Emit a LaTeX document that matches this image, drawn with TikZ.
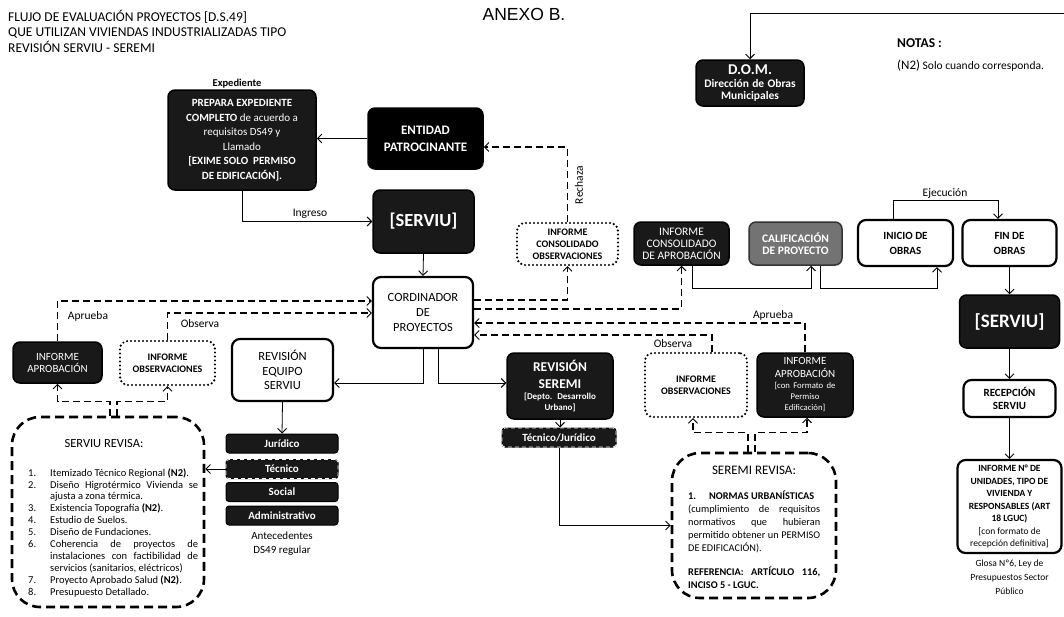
\documentclass[tikz,border=0pt]{standalone}
\usepackage{fontspec}
\setmainfont{Carlito}
\newfontfamily\arialf{Liberation Sans}
\usetikzlibrary{arrows.meta}
\newcommand\fsz[2]{\fontsize{#1}{#2}\selectfont}
\newcommand\lmklabel[1]{#1\hfil}
\begin{document}
\begin{tikzpicture}[x=1pt,y=-1pt,
 every node/.style={inner sep=0pt},
 arr/.style={draw=black,line width=0.8pt,-{Straight Barb[length=4.5pt,width=9pt,line width=0.9pt]}},
 darr/.style={arr,line width=1.4pt,dash pattern=on 7pt off 4pt},
 blk/.style={rounded corners=7pt,fill=black!90,draw=black,line width=1.5pt,text=white,align=center},
 gry/.style={blk,fill=black!55,draw=black!80},
 wht/.style={rounded corners=8pt,fill=white,draw=black,line width=2.2pt,align=center},
 dotb/.style={rounded corners=8pt,fill=white,draw=black,line width=2.4pt,dash pattern=on 0pt off 4pt,line cap=round,align=center},
 dshb/.style={rounded corners=28pt,draw=black,line width=2.6pt,dash pattern=on 9pt off 5pt},
 tab/.style={rounded corners=3pt,fill=black!90,draw=black,line width=1pt,text=white,font=\bfseries\fsz{11}{13},minimum width=112pt,minimum height=19pt},
 tabd/.style={tab,postaction={draw=white,line width=0.8pt,dash pattern=on 4pt off 3pt}},
 lbl/.style={font=\fsz{11.5}{13}},
]
\fill[white] (0,0) rectangle (1064,616);
\useasboundingbox (0,0) rectangle (1064,616);

% title
\node[anchor=base west,font=\fsz{13.5}{15}] (t1) at (8,21.5) {FLUJO DE EVALUACIÓN PROYECTOS [D.S.49]};
\node[anchor=base west,font=\fsz{13.5}{15}] (t2) at (8,36.5) {QUE UTILIZAN VIVIENDAS INDUSTRIALIZADAS TIPO};
\node[anchor=base west,font=\fsz{13.5}{15}] (t3) at (8,52) {REVISIÓN SERVIU - SEREMI};
\node[font=\arialf\fsz{17.5}{19}] (anexo) at (524,14) {ANEXO B.};

% notes
\node[anchor=west,font=\bfseries\fsz{13.5}{15}] (notas) at (897,43) {NOTAS :};
\node[anchor=west,font=\fsz{11.5}{13}] (n2) at (897,66) {{\fsz{13}{14}(N2)} Solo cuando corresponda.};

% boxes
\node[font=\bfseries\fsz{10.5}{12}] (expl) at (237,84) {Expediente};
\node[blk,minimum width=148pt,minimum height=100pt,font=\fsz{11}{14.5}] (exp) at (242,140)
 {\textbf{PREPARA EXPEDIENTE}\\\textbf{COMPLETO} de acuerdo a\\requisitos DS49 y\\Llamado\\\textbf{[EXIME SOLO\ \ PERMISO}\\\textbf{DE EDIFICACIÓN].}};
\node[blk,fill=black,minimum width=115pt,minimum height=61pt,font=\bfseries\fsz{13}{17}] (ent) at (425.5,138.5) {ENTIDAD\\PATROCINANTE};
\node[blk,minimum width=101pt,minimum height=63pt,font=\bfseries\fsz{18.5}{20}] (serv1) at (423.5,221.5) {[SERVIU]};
\node[dotb,minimum width=101pt,minimum height=42pt,font=\bfseries\fsz{10}{12}] (ico) at (567.5,244) {INFORME\\CONSOLIDADO\\OBSERVACIONES};
\node[wht,minimum width=100pt,minimum height=71pt,font=\fsz{12.5}{15}] (coord) at (423,312.5) {CORDINADOR\\DE\\PROYECTOS};
\node[blk,minimum width=95pt,minimum height=43pt,font=\fsz{11.5}{12}] (ica) at (681.5,243.5) {INFORME\\CONSOLIDADO\\DE APROBACIÓN};
\node[gry,minimum width=93pt,minimum height=43pt,font=\bfseries\fsz{11.5}{12}] (cal) at (795.5,243.5) {CALIFICACIÓN\\DE PROYECTO};
\node[wht,minimum width=95pt,minimum height=46pt,font=\bfseries\fsz{11}{15}] (ini) at (905.5,243) {INICIO DE\\OBRAS};
\node[wht,minimum width=94pt,minimum height=46pt,font=\bfseries\fsz{11}{15}] (fin) at (1009.5,243) {FIN DE\\OBRAS};
\node[blk,minimum width=100pt,minimum height=53pt,font=\bfseries\fsz{19}{20}] (serv2) at (1009.5,321.5) {[SERVIU]};
\node[wht,minimum width=92pt,minimum height=37pt,font=\bfseries\fsz{11}{13}] (rec) at (1009.5,398.5) {RECEPCIÓN\\SERVIU};
\node[wht,minimum width=104pt,minimum height=93pt,font=\fsz{9.5}{12.5}] (inf) at (1009.5,506.5)
 {\textbf{INFORME N° DE}\\\textbf{UNIDADES, TIPO DE}\\\textbf{VIVIENDA Y}\\\textbf{RESPONSABLES (ART}\\\textbf{18 LGUC)}\\{[con formato de}\\recepción definitiva]};
\node[align=center,font=\fsz{9.5}{14}] (glosa) at (1009.5,577) {Glosa Nº6, Ley de\\Presupuestos Sector\\Público};
\node[blk,minimum width=108pt,minimum height=46pt,text width=106pt] (dom) at (750,83)
 {\fsz{15}{14}\bfseries D.O.M.\par\fsz{11.5}{12.5}\bfseries Dirección de Obras\\Municipales\par};

% left side
\node[blk,minimum width=89pt,minimum height=41pt,font=\fsz{11}{12}] (iapL) at (57.5,362.5) {INFORME\\APROBACIÓN};
\node[dotb,minimum width=95pt,minimum height=44pt,font=\bfseries\fsz{10}{12}] (iobL) at (167.5,363) {INFORME\\OBSERVACIONES};
\node[wht,minimum width=101pt,minimum height=62pt,font=\fsz{12.5}{14.5}] (rev) at (282.5,370) {REVISIÓN\\EQUIPO\\SERVIU};
\node[tab] (jur) at (282,443.5) {Jurídico};
\node[tabd] (tec) at (282,469) {Técnico};
\node[tab] (soc) at (282,492) {Social};
\node[tab] (adm) at (282,515.5) {Administrativo};
\node[align=center,font=\fsz{11}{14}] (ante) at (282,544) {Antecedentes\\DS49 regular};

\node[dshb,minimum width=192pt,minimum height=190pt] (srev) at (108,512) {};
\node[font=\fsz{12.5}{14}] (srevh) at (104,443) {SERVIU REVISA:};
\node[anchor=north west,text width=170pt,align=justify,font=\fsz{10.5}{11.9}] (srevt) at (28,464) {%
\begin{list}{}{\leftmargin=22pt\labelwidth=18pt\labelsep=4pt\itemsep=0pt\parsep=0pt\topsep=0pt\partopsep=0pt\let\makelabel\lmklabel}
\item[1.] Itemizado Técnico Regional \textbf{(N2)}.
\item[2.] Diseño Higrotérmico Vivienda se\linebreak ajusta a zona térmica.
\item[3.] Existencia Topografía \textbf{(N2)}.
\item[4.] Estudio de Suelos.
\item[5.] Diseño de Fundaciones.
\item[6.] Coherencia de proyectos de\linebreak instalaciones con factibilidad de\linebreak servicios (sanitarios, eléctricos)
\item[7.] Proyecto Aprobado Salud \textbf{(N2)}.
\item[8.] Presupuesto Detallado.
\end{list}};

% seremi side
\node[blk,minimum width=106pt,minimum height=66pt,text width=104pt] (rseremi) at (560,386)
 {\fsz{13.5}{17}\bfseries REVISIÓN\\SEREMI\par\fsz{9}{11}\bfseries [Depto. Desarrollo\\Urbano]\par};
\node[tabd,minimum width=114pt] (tj) at (559,437.5) {Técnico/Jurídico};
\node[dotb,minimum width=102pt,minimum height=64pt,font=\bfseries\fsz{10}{12}] (iobR) at (696,385) {INFORME\\OBSERVACIONES};
\node[blk,minimum width=96pt,minimum height=64pt,text width=94pt] (iapR) at (805,385)
 {\fsz{11}{13}INFORME\\APROBACIÓN\par\fsz{8.7}{11}[con Formato de\\Permiso\\Edificación]\par};
\node[dshb,minimum width=164pt,minimum height=145pt] (serR) at (754,525.5) {};
\node[font=\fsz{13}{15}] (serRh) at (754,470) {SEREMI REVISA:};
\node[anchor=north west,text width=132pt,align=justify,font=\fsz{10.3}{12.8}] (serRt) at (688,491)
 {\textbf{1.\hspace{13pt}NORMAS URBANÍSTICAS}\\(cumplimiento de requisitos\linebreak normativos que hubieran\linebreak permitido obtener un PERMISO\linebreak DE EDIFICACIÓN).\par\vspace{12pt}\textbf{REFERENCIA: ARTÍCULO 116,\linebreak INCISO 5 - LGUC.}};

% connectors
\draw[arr] (ent.west) -- (ent.west -| exp.east);
\draw[arr] (exp.south) |- (serv1.west);
\node[lbl,anchor=base] (ingl) at (310,216) {Ingreso};
\draw[arr] (serv1.south) -- (coord.north);
\draw[darr] (ico.north) |- (ent.east |- 0,147);
\node[lbl,rotate=90] (rechl) at (579,185) {Rechaza};
\draw[darr] (coord.east |- 0,300) -| (ico.south);
\draw[darr] (coord.east |- 0,309) -| (ica.south);
\draw[darr] (iapR.north) |- (coord.east |- 0,323);
\node[lbl] (aprR) at (773,315) {Aprueba};
\draw[darr] ([xshift=16pt]iobR.north) |- (coord.east |- 0,335);
\node[lbl] (obsR) at (673,344) {Observa};
\draw[darr] (iapL.north) |- (coord.west |- 0,301);
\node[lbl] (aprL) at (88,316) {Aprueba};
\draw[darr] (iobL.north) |- (coord.west |- 0,313);
\node[lbl] (obsL) at (200,324) {Observa};
\draw[arr] (coord.south) |- (rev.east |- 0,383);
\draw[arr] ([xshift=15pt]coord.south) |- (rseremi.west |- 0,383);
\draw[arr] (rev.south) -- (jur.north);
\draw[arr] (tec.west) -- (tec.west -| srev.east);
\draw[arr] (rseremi.south) -- (rseremi.south |- tj.north);
\draw[arr] (tj.south) |- (serR.west);
\draw[darr] ([xshift=2pt]srev.north) -- ++(0,-14) -| (iapL.south);
\draw[darr] ([xshift=9pt]srev.north) -- ++(0,-14) -| (iobL.south);
\draw[darr] ([xshift=-6pt]serR.north) -- ++(0,-19) -| ([xshift=-3pt]iobR.south);
\draw[darr] ([xshift=1pt]serR.north) -- ++(0,-19) -| ([xshift=2pt]iapR.south);
\coordinate (domsrc) at (1064,13);
\draw[arr] (domsrc) -| (dom.north);
\draw[arr] ([xshift=10.5pt]ica.south) -- ++(0,23) -| ([xshift=15.5pt]cal.south);
\draw[arr] ([xshift=24.5pt]cal.south) -- ++(0,22.5) -| ([xshift=31.5pt]ini.south);
\draw[arr] ([xshift=-12.5pt]ini.north) -- ++(0,-19) -| ([xshift=-11.5pt]fin.north);
\node[lbl] (ejec) at (945,194) {Ejecución};
\draw[arr] (fin.south) -- (serv2.north);
\draw[arr] (serv2.south) -- (rec.north);
\draw[arr] (rec.south) -- (inf.north);
\end{tikzpicture}
\end{document}
